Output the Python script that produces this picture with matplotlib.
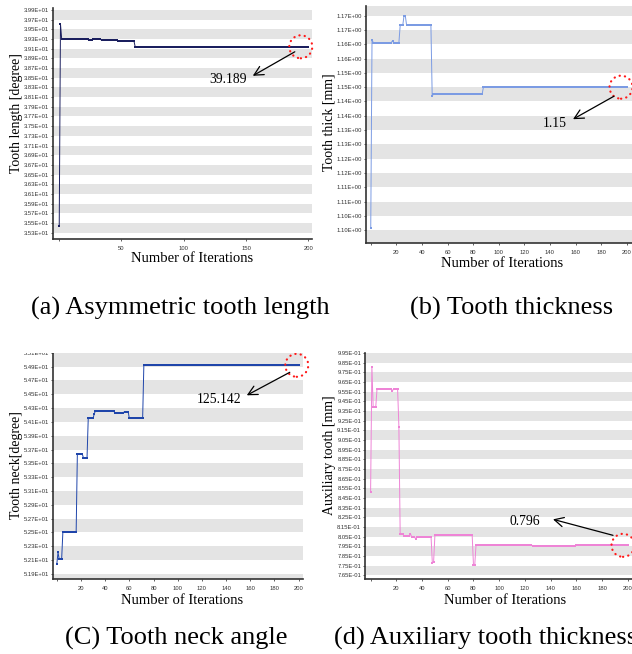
import numpy as np
import matplotlib
matplotlib.use("Agg")
import matplotlib.pyplot as plt
from matplotlib import transforms
from matplotlib.patches import Circle, Rectangle

W, H = 632, 654
N_ITER = 200
SERIF = ["Liberation Serif", "DejaVu Serif"]
SANS = ["Liberation Sans", "DejaVu Sans"]

# ---- optimisation history: iteration where the best value changes, and that value ----
# (a) asymmetric tooth length [degree]
length_change_iter = [0, 1, 2, 24, 27, 34, 47, 61]
length_best = [35.49, 39.66, 39.34, 39.32, 39.34, 39.33, 39.31, 39.189]
length_ticklabels = ["3.53E+01", "3.55E+01", "3.57E+01", "3.59E+01", "3.61E+01", "3.63E+01",
                     "3.65E+01", "3.67E+01", "3.69E+01", "3.71E+01", "3.73E+01", "3.75E+01",
                     "3.77E+01", "3.79E+01", "3.81E+01", "3.83E+01", "3.85E+01", "3.87E+01",
                     "3.89E+01", "3.91E+01", "3.93E+01", "3.95E+01", "3.97E+01", "3.99E+01"]
length_note = "39.189"

# (b) tooth thickness [mm]
thick_change_iter = [0, 1, 2, 17, 18, 23, 26, 28, 48, 49, 88]
thick_best = [1.1006, 1.1665, 1.1656, 1.1662, 1.1656, 1.1716, 1.1750, 1.1717, 1.1470, 1.1475, 1.15]
thick_ticklabels = ["1.10E+00", "1.10E+00", "1.11E+00", "1.11E+00", "1.12E+00", "1.12E+00",
                    "1.13E+00", "1.13E+00", "1.14E+00", "1.14E+00", "1.15E+00", "1.15E+00",
                    "1.16E+00", "1.16E+00", "1.17E+00", "1.17E+00"]
thick_note = "1.15"

# (c) tooth neck angle [degree]
neck_change_iter = [0, 1, 2, 5, 17, 22, 26, 31, 32, 48, 56, 60, 72]
neck_best = [52.04, 52.21, 52.11, 52.50, 53.64, 53.58, 54.15, 54.22, 54.26, 54.23, 54.25, 54.15, 54.92]
neck_ticklabels = ["5.19E+01", "5.21E+01", "5.23E+01", "5.25E+01", "5.27E+01", "5.29E+01",
                   "5.31E+01", "5.33E+01", "5.35E+01", "5.37E+01", "5.39E+01", "5.41E+01",
                   "5.43E+01", "5.45E+01", "5.47E+01", "5.49E+01", "5.51E+01"]
neck_note = "125.142"

# (d) auxiliary tooth thickness [mm]
aux_change_iter = [0, 1, 2, 5, 17, 18, 22, 23, 26, 31, 32, 35, 36, 48, 49, 50, 80, 82, 126, 160]
aux_best = [0.851, 0.981, 0.939, 0.958, 0.956, 0.958, 0.919, 0.808, 0.8055, 0.808, 0.8045, 0.803,
            0.805, 0.778, 0.779, 0.8062, 0.7757, 0.7965, 0.7955, 0.796]
aux_ticklabels = ["7.65E-01", "7.75E-01", "7.85E-01", "7.95E-01", "8.05E-01", "8.15E-01",
                  "8.25E-01", "8.35E-01", "8.45E-01", "8.55E-01", "8.65E-01", "8.75E-01",
                  "8.85E-01", "8.95E-01", "9.05E-01", "9.15E-01", "9.25E-01", "9.35E-01",
                  "9.45E-01", "9.55E-01", "9.65E-01", "9.75E-01", "9.85E-01", "9.95E-01"]
aux_note = "0.796"

captions = ["(a) Asymmetric tooth length", "(b) Tooth thickness",
            "(C) Tooth neck angle", "(d) Auxiliary tooth thickness"]


def history(change_iter, best):
    """Best-so-far value at every iteration 0..N_ITER."""
    vals = np.empty(N_ITER + 1)
    for it, v in zip(change_iter, best):
        vals[it:] = v
    return np.arange(N_ITER + 1), vals


def fig_rect(left, top, right, bottom):
    return [left / W, 1 - bottom / H, (right - left) / W, (bottom - top) / H]


def fig_xy(x, y):
    return x / W, 1 - y / H


panels = [
    dict(px=(53, 8, 312, 239), xlim=(-5.0, 203.0), ylim=(35.22, 39.99),
         data=(length_change_iter, length_best), tick0=35.35, tick_step=0.2,
         yticklabels=length_ticklabels, band_phase=0, xticks=[0, 50, 100, 150, 200],
         color="#1b1f5e", ms=2.1, ylabel="Tooth length [degree]",
         ylabel_px=(17, 113), xlabel_px=(192, 259), circle_iter=194,
         note=length_note, text_off=(-73, -33), head_off=(-48, -29), tail_off=(-6, -5)),
    dict(px=(366, 6, 636, 243), xlim=(-3.7, 207.2), ylim=(1.0955, 1.1784),
         data=(thick_change_iter, thick_best), tick0=1.100, tick_step=0.005,
         yticklabels=thick_ticklabels, band_phase=1, xticks=list(range(0, 201, 20)),
         color="#7b9be3", ms=1.9, ylabel="Tooth thick [mm]",
         ylabel_px=(329, 122), xlabel_px=(502, 263), circle_iter=195.5,
         note=thick_note, text_off=(-66, -36), head_off=(-48, -32), tail_off=(-7, -9)),
    dict(px=(53.3, 351.5, 303.3, 579.3), xlim=(-2.9, 203.9), ylim=(51.82, 55.12),
         data=(neck_change_iter, neck_best), tick0=51.9, tick_step=0.2,
         yticklabels=neck_ticklabels, band_phase=1, xticks=list(range(0, 201, 20)),
         color="#1f45aa", ms=2.1, ylabel="Tooth neck[degree]",
         ylabel_px=(17, 465), xlabel_px=(182, 600), circle_iter=198.5,
         note=neck_note, text_off=(-78, -34), head_off=(-50, -30), tail_off=(-7, -7)),
    dict(px=(365.3, 353, 636, 579.3), xlim=(-4.12, 206.4), ylim=(0.76084, 0.9951),
         data=(aux_change_iter, aux_best), tick0=0.765, tick_step=0.01,
         yticklabels=aux_ticklabels, band_phase=0, xticks=list(range(0, 201, 20)),
         color="#ee84d6", ms=1.7, ylabel="Auxiliary tooth [mm]",
         ylabel_px=(329, 455), xlabel_px=(505, 601), circle_iter=196.3,
         note=aux_note, text_off=(-98, 24), head_off=(-70, 26), tail_off=(-10, 10)),
]

fig = plt.figure(figsize=(W / 100, H / 100), dpi=100)
fig.patch.set_facecolor("white")

for p in panels:
    ax = fig.add_axes(fig_rect(*p["px"]))
    ax.set_facecolor("white")
    ax.set_xlim(*p["xlim"])
    ax.set_ylim(*p["ylim"])

    # alternating horizontal bands between the y ticks
    n = len(p["yticklabels"])
    edges = p["tick0"] + p["tick_step"] * np.arange(-1, n + 1)
    for i, (lo, hi) in enumerate(zip(edges[:-1], edges[1:]), start=-1):
        if i % 2 == p["band_phase"]:
            ax.axhspan(lo, hi, color="#e4e4e4", lw=0, zorder=0)

    x, y = history(*p["data"])
    ax.plot(x, y, color=p["color"], lw=0.7, marker="s", ms=p["ms"], mew=0, zorder=3)

    ax.set_yticks(p["tick0"] + p["tick_step"] * np.arange(n))
    ax.set_yticklabels(p["yticklabels"])
    ax.set_xticks(p["xticks"])
    ax.set_xticklabels(["" if t == 0 else str(t) for t in p["xticks"]])
    for lab in ax.get_xticklabels() + ax.get_yticklabels():
        lab.set_family(SANS)
        lab.set_fontsize(4.2)
        lab.set_color("#333333")
    ax.tick_params(axis="y", length=1.5, width=0.6, color="#444444", pad=1.5)
    ax.tick_params(axis="x", length=1.5, width=0.6, color="#444444", pad=3.6)

    for side in ("top", "right"):
        ax.spines[side].set_visible(False)
    for side in ("left", "bottom"):
        ax.spines[side].set_color("#333333")
        ax.spines[side].set_linewidth(1.2)

    ax.set_xlabel("Number of Iterations", family=SERIF, fontsize=10.5, va="center")
    ax.xaxis.set_label_coords(*fig_xy(*p["xlabel_px"]), transform=fig.transFigure)
    ax.set_ylabel(p["ylabel"], family=SERIF, fontsize=10, va="center")
    ax.yaxis.set_label_coords(*fig_xy(*p["ylabel_px"]), transform=fig.transFigure)

    # red dotted ring around the converged value
    cx, cy = p["circle_iter"], p["data"][1][-1]
    ring_tr = fig.dpi_scale_trans + transforms.ScaledTranslation(cx, cy, ax.transData)
    ring = Circle((0, 0), 0.115, transform=ring_tr, fill=False, edgecolor="#ff1a1a",
                  lw=1.6, linestyle=(0, (0.1, 2.3)), clip_on=False, zorder=6)
    ring.set_capstyle("round")
    ax.add_artist(ring)

    head_tr = transforms.offset_copy(ax.transData, fig=fig, x=p["head_off"][0],
                                     y=p["head_off"][1], units="dots")
    tail_tr = transforms.offset_copy(ax.transData, fig=fig, x=p["tail_off"][0],
                                     y=p["tail_off"][1], units="dots")
    ax.annotate("", xy=(cx, cy), xycoords=head_tr, xytext=(cx, cy), textcoords=tail_tr,
                arrowprops=dict(arrowstyle="->,head_length=0.55,head_width=0.28",
                                color="black", lw=0.9, shrinkA=0, shrinkB=0,
                                mutation_scale=12),
                annotation_clip=False, zorder=7)
    ax.annotate(p["note"], xy=(cx, cy), xycoords="data", xytext=p["text_off"],
                textcoords="offset pixels", ha="center", va="center",
                family=SERIF, fontsize=9.8, color="black", annotation_clip=False, zorder=7)

# the neck-angle panel is trimmed at its top edge
fig.add_artist(Rectangle(fig_xy(0, 353), 316 / W, 23 / H, transform=fig.transFigure,
                         facecolor="white", edgecolor="none", zorder=10))

# sub-figure captions
cap_kw = dict(family=SERIF, fontsize=19, va="baseline")
fig.text(*fig_xy(180, 315), captions[0], ha="center", **cap_kw)
fig.text(*fig_xy(512, 315), captions[1], ha="center", **cap_kw)
fig.text(*fig_xy(176, 645), captions[2], ha="center", **cap_kw)
fig.text(*fig_xy(334, 645), captions[3], ha="left", **cap_kw)

fig.savefig("out.png", dpi=100, facecolor="white")
